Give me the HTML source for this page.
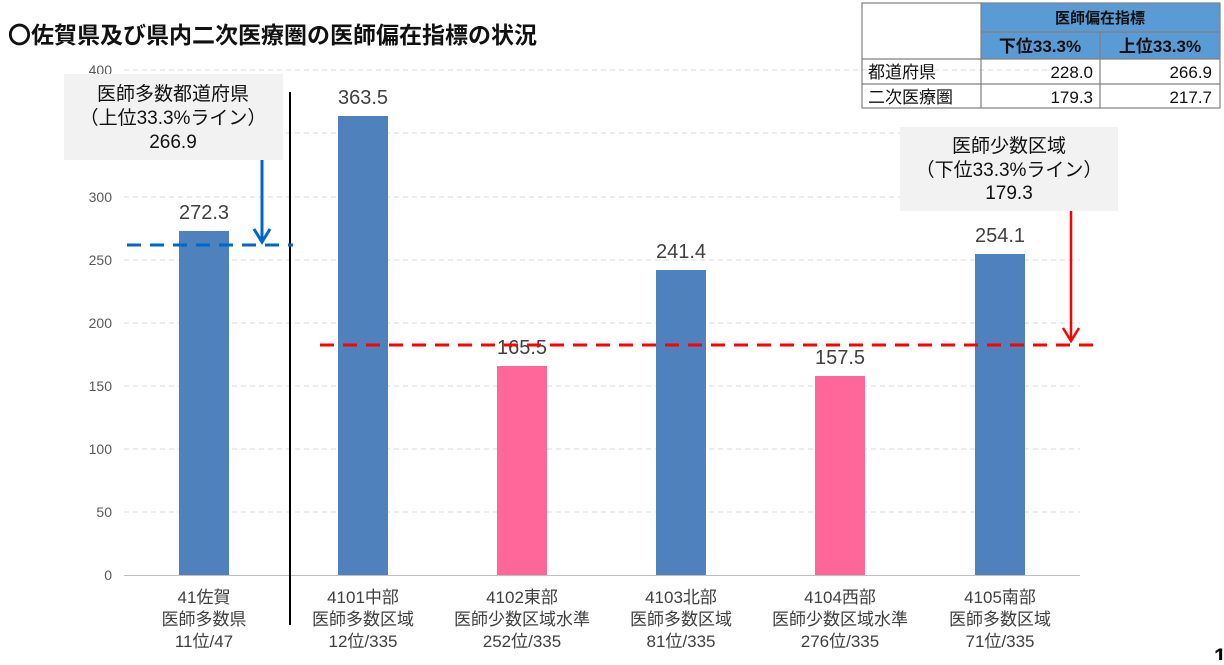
<!DOCTYPE html>
<html><head><meta charset="utf-8"><style>
body{margin:0;background:#fff;width:1224px;height:660px;overflow:hidden;font-family:"Liberation Sans","Noto Sans CJK JP",sans-serif}
</style></head><body>
<svg width="1224" height="660" xmlns="http://www.w3.org/2000/svg" font-family="'Liberation Sans','Noto Sans CJK JP',sans-serif">
<text x="8" y="43" font-size="23" font-weight="bold" fill="#111">〇佐賀県及び県内二次医療圏の医師偏在指標の状況</text>
<g stroke="#d9d9d9" stroke-dasharray="5,4" stroke-width="1">
<line x1="124" x2="1080" y1="70" y2="70"/><line x1="124" x2="1080" y1="133" y2="133"/>
<line x1="124" x2="1080" y1="197" y2="197"/><line x1="124" x2="1080" y1="260" y2="260"/>
<line x1="124" x2="1080" y1="323" y2="323"/><line x1="124" x2="1080" y1="386" y2="386"/>
<line x1="124" x2="1080" y1="449" y2="449"/><line x1="124" x2="1080" y1="512" y2="512"/>
</g>
<line x1="124" x2="1080" y1="575.5" y2="575.5" stroke="#bfbfbf"/>
<g font-size="14" fill="#595959" text-anchor="end">
<text x="112" y="75">400</text><text x="112" y="202">300</text><text x="112" y="265">250</text>
<text x="112" y="328">200</text><text x="112" y="391">150</text><text x="112" y="454">100</text>
<text x="112" y="517">50</text><text x="112" y="580">0</text>
</g>
<rect x="179" y="231" width="50" height="344" fill="#4f81bd"/>
<rect x="338" y="116" width="50" height="459" fill="#4f81bd"/>
<rect x="497" y="366" width="50" height="209" fill="#ff6699"/>
<rect x="656" y="270" width="50" height="305" fill="#4f81bd"/>
<rect x="815" y="376" width="50" height="199" fill="#ff6699"/>
<rect x="975" y="254" width="50" height="321" fill="#4f81bd"/>
<g font-size="20" fill="#404040" text-anchor="middle">
<text x="204" y="219">272.3</text><text x="363" y="104">363.5</text><text x="522" y="354">165.5</text>
<text x="681" y="258">241.4</text><text x="840" y="364">157.5</text><text x="1000" y="242">254.1</text>
</g>
<line x1="290" x2="290" y1="92" y2="625" stroke="#000" stroke-width="2"/>
<line x1="127" x2="293" y1="245" y2="245" stroke="#0066cc" stroke-width="3" stroke-dasharray="14,9"/>
<line x1="320" x2="1100" y1="345" y2="345" stroke="#ff0000" stroke-width="3" stroke-dasharray="14,9"/>
<rect x="64" y="74" width="219" height="86" fill="#f2f2f2"/>
<g font-size="19" fill="#111" text-anchor="middle">
<text x="173" y="100">医師多数都道府県</text><text x="173" y="124">（上位33.3%ライン）</text><text x="173" y="148">266.9</text>
</g>
<line x1="262" x2="262" y1="160" y2="240" stroke="#0066cc" stroke-width="3"/>
<polyline points="254,229 262,242 270,229" fill="none" stroke="#0066cc" stroke-width="3"/>
<rect x="900" y="127" width="218" height="84" fill="#f2f2f2"/>
<g font-size="19" fill="#111" text-anchor="middle">
<text x="1009" y="152">医師少数区域</text><text x="1009" y="176">（下位33.3%ライン）</text><text x="1009" y="199">179.3</text>
</g>
<line x1="1071" x2="1071" y1="211" y2="340" stroke="#ff0000" stroke-width="2.5"/>
<polyline points="1063,328 1071,341 1079,328" fill="none" stroke="#ff0000" stroke-width="2.5"/>
<g font-size="17" fill="#404040" text-anchor="middle">
<text x="204" y="603">41佐賀</text><text x="204" y="625">医師多数県</text><text x="204" y="647">11位/47</text>
<text x="363" y="603">4101中部</text><text x="363" y="625">医師多数区域</text><text x="363" y="647">12位/335</text>
<text x="522" y="603">4102東部</text><text x="522" y="625">医師少数区域水準</text><text x="522" y="647">252位/335</text>
<text x="681" y="603">4103北部</text><text x="681" y="625">医師多数区域</text><text x="681" y="647">81位/335</text>
<text x="840" y="603">4104西部</text><text x="840" y="625">医師少数区域水準</text><text x="840" y="647">276位/335</text>
<text x="1000" y="603">4105南部</text><text x="1000" y="625">医師多数区域</text><text x="1000" y="647">71位/335</text>
</g>
<rect x="981" y="3" width="239" height="29" fill="#5b9bd5"/>
<rect x="981" y="32" width="239" height="27" fill="#5b9bd5"/>
<g stroke="#808080" stroke-width="1.2" fill="none">
<rect x="862" y="3" width="358" height="105"/>
<line x1="981" x2="981" y1="3" y2="108"/><line x1="1100" x2="1100" y1="32" y2="108"/>
<line x1="981" x2="1220" y1="32" y2="32"/><line x1="862" x2="1220" y1="59" y2="59"/>
<line x1="862" x2="1220" y1="84" y2="84"/>
</g>
<g font-size="17" fill="#111">
<text x="1100" y="23" text-anchor="middle" font-weight="bold" font-size="15">医師偏在指標</text>
<text x="1040" y="52" text-anchor="middle" font-weight="bold">下位33.3%</text>
<text x="1160" y="52" text-anchor="middle" font-weight="bold">上位33.3%</text>
<text x="868" y="78">都道府県</text><text x="868" y="103">二次医療圏</text>
<text x="1093" y="78" text-anchor="end">228.0</text><text x="1212" y="78" text-anchor="end">266.9</text>
<text x="1093" y="103" text-anchor="end">179.3</text><text x="1212" y="103" text-anchor="end">217.7</text>
</g>
<text x="1214" y="664" font-size="22" font-weight="bold" fill="#000">1</text>
</svg>
</body></html>
